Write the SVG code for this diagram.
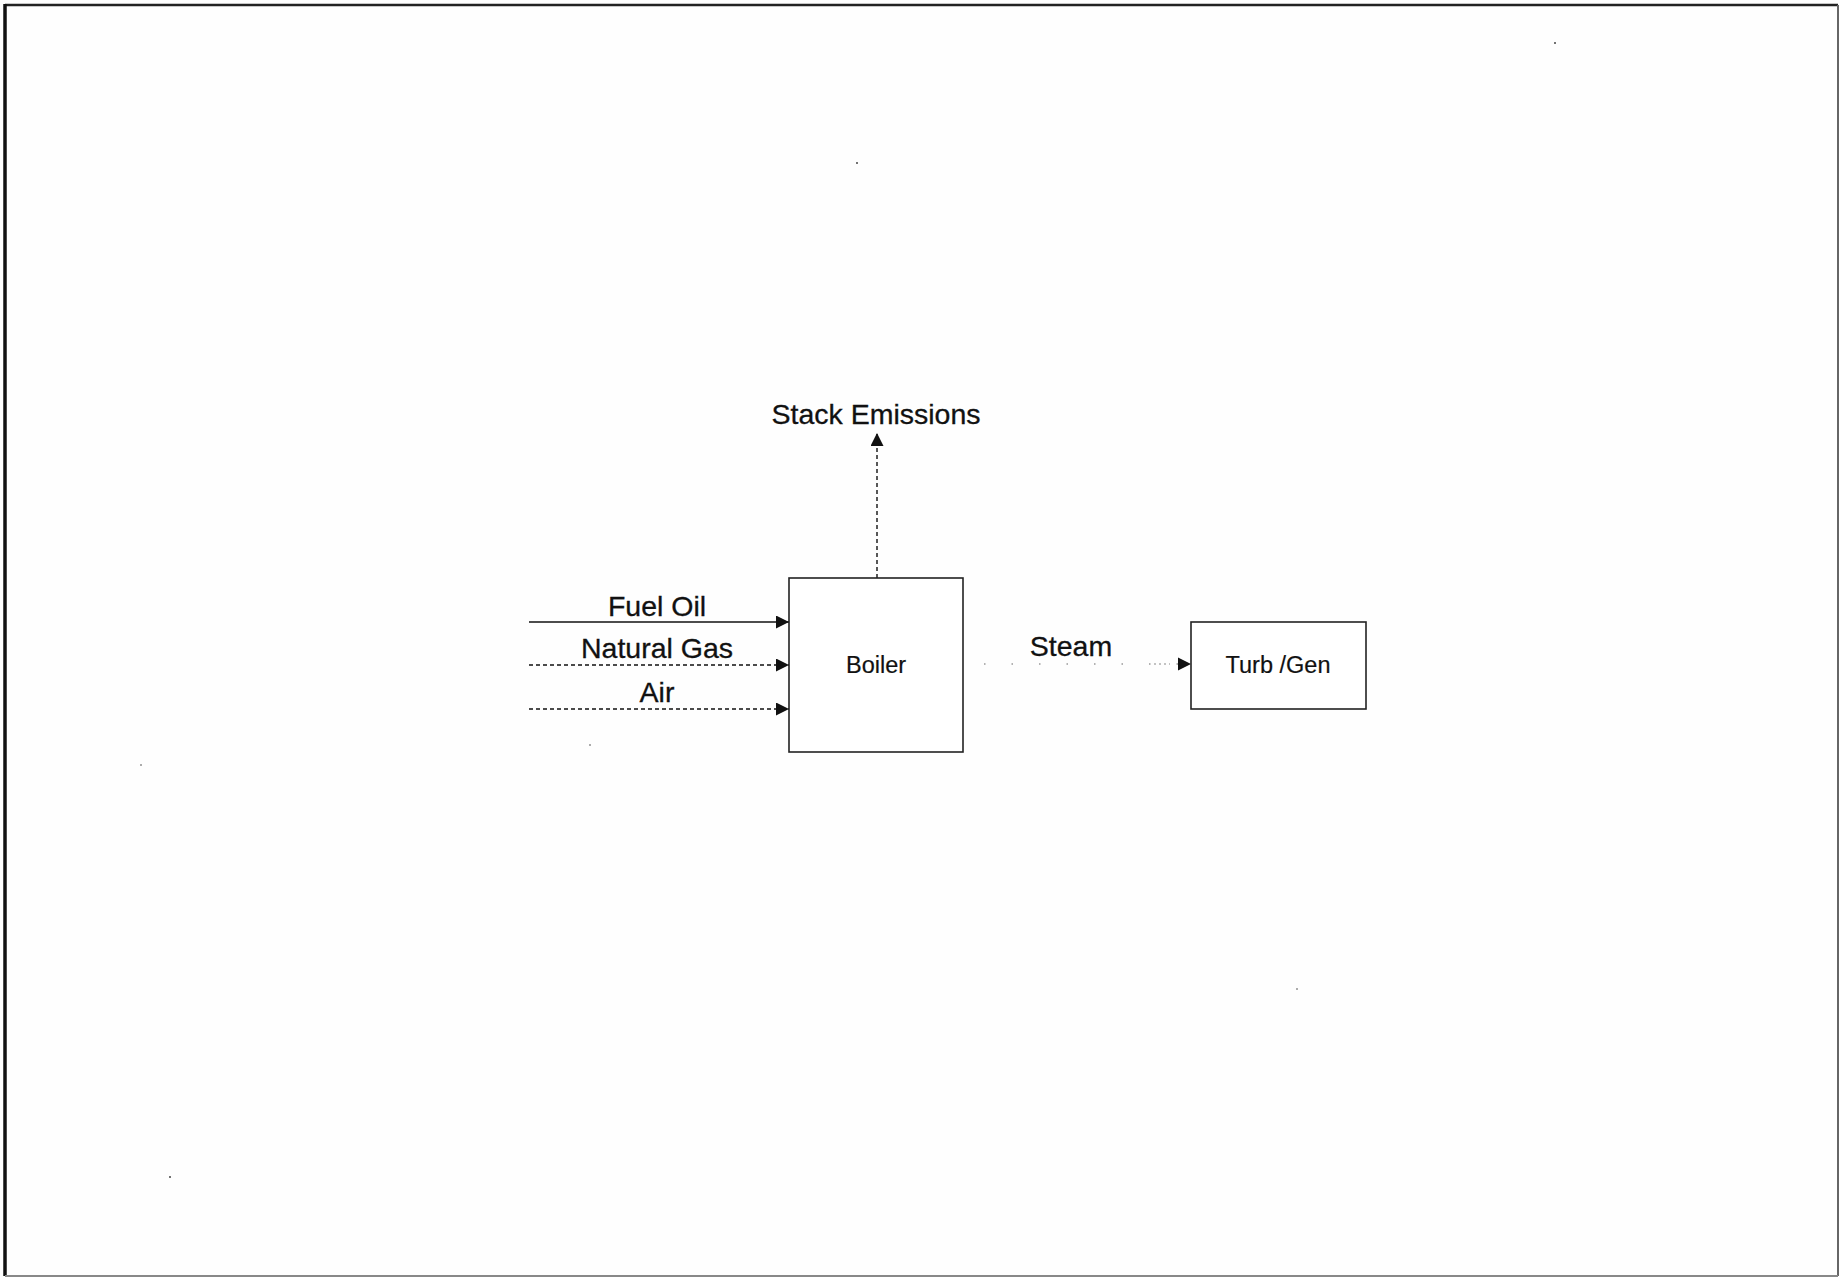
<svg xmlns="http://www.w3.org/2000/svg" width="1840" height="1277" viewBox="0 0 1840 1277">
<style>
.lbl{font-family:"Liberation Sans",Arial,sans-serif;font-size:28.5px;fill:#111;stroke:#111;stroke-width:0.3;}
.nlbl{font-family:"Liberation Sans",Arial,sans-serif;font-size:23.5px;fill:#111;stroke:#111;stroke-width:0.2;}
.box{fill:#fff;stroke:#222;stroke-width:1.6;}
.solid{stroke:#111;stroke-width:1.6;fill:none;}
.dash{stroke:#111;stroke-width:1.4;fill:none;stroke-dasharray:4 3;}
.dot{stroke:#666;stroke-width:1.2;fill:none;stroke-dasharray:1.5 26;}
.speck{fill:#444;}
</style>
<defs>
<marker id="ah" markerUnits="userSpaceOnUse" markerWidth="14" markerHeight="14" refX="13" refY="6.5" orient="auto">
<path d="M0,0 L13,6.5 L0,13 Z" fill="#111"/>
</marker>
</defs>
<rect x="0" y="0" width="1840" height="1277" fill="#fefefe"/>
<g id="frame">
<line x1="5" y1="5" x2="1838" y2="5" stroke="#222" stroke-width="2.5"/>
<line x1="5" y1="4" x2="5" y2="1276" stroke="#111" stroke-width="3.5"/>
<line x1="1838" y1="5" x2="1838" y2="1276" stroke="#666" stroke-width="2"/>
<line x1="5" y1="1276" x2="1838" y2="1276" stroke="#888" stroke-width="2"/>
</g>
<g id="connectors">
<line class="solid" x1="529" y1="622" x2="789" y2="622" marker-end="url(#ah)"/>
<line class="dash" x1="529" y1="665" x2="789" y2="665" marker-end="url(#ah)"/>
<line class="dash" x1="529" y1="709" x2="789" y2="709" marker-end="url(#ah)"/>
<line class="dash" x1="877" y1="578" x2="877" y2="433" marker-end="url(#ah)"/>
<line class="dot" x1="984" y1="664" x2="1178" y2="664"/>
<line x1="1154" y1="664" x2="1170" y2="664" stroke="#888" stroke-width="1.2" stroke-dasharray="2 3"/>
<path d="M1178,657.5 L1191,664 L1178,670.5 Z" fill="#111"/>
</g>
<g id="boiler">
<rect class="box" x="789" y="578" width="174" height="174"/>
<text class="nlbl" x="876" y="673" text-anchor="middle">Boiler</text>
</g>
<g id="turbgen">
<rect class="box" x="1191" y="622" width="175" height="87"/>
<text class="nlbl" x="1278" y="673" text-anchor="middle">Turb /Gen</text>
</g>
<g id="labels">
<text class="lbl" x="876" y="424" text-anchor="middle">Stack Emissions</text>
<text class="lbl" x="657" y="616" text-anchor="middle">Fuel Oil</text>
<text class="lbl" x="657" y="658" text-anchor="middle">Natural Gas</text>
<text class="lbl" x="657" y="702" text-anchor="middle">Air</text>
<text class="lbl" x="1071" y="656" text-anchor="middle">Steam</text>
</g>
<g id="specks">
<circle class="speck" cx="857" cy="163" r="1"/>
<circle class="speck" cx="1555" cy="43" r="1"/>
<circle class="speck" cx="141" cy="765" r="0.8"/>
<circle class="speck" cx="590" cy="745" r="0.8"/>
<circle class="speck" cx="1297" cy="989" r="0.8"/>
<circle class="speck" cx="170" cy="1177" r="1"/>
</g>
</svg>
